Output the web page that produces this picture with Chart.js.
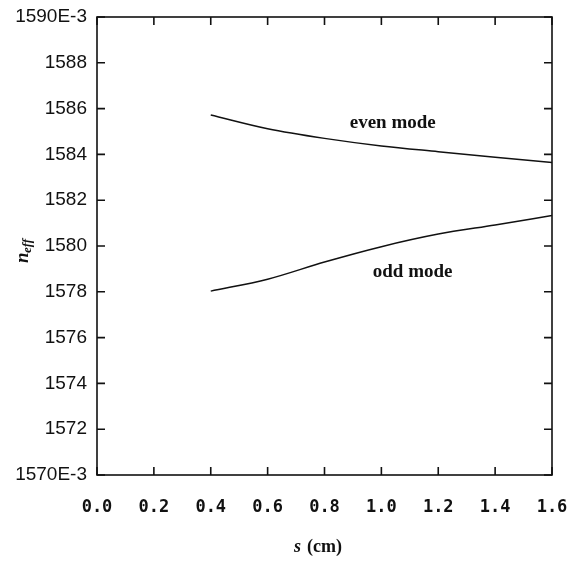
<!DOCTYPE html>
<html>
<head>
<meta charset="utf-8">
<script src="https://cdn.jsdelivr.net/npm/chart.js@4.4.1/dist/chart.umd.min.js"></script>
<style>
  html, body { margin: 0; padding: 0; background: #fff; }
  #wrap { width: 573px; height: 573px; }
</style>
</head>
<body>
<div id="wrap"><canvas id="chart"></canvas></div>
<script>
// s (cm)
const spacing = [0.4, 0.6, 0.8, 1.0, 1.2, 1.4, 1.6];
// n_eff in units of 1E-3
const evenMode = [1585.72, 1585.12, 1584.70, 1584.37, 1584.12, 1583.88, 1583.65];
const oddMode = [1578.03, 1578.55, 1579.30, 1579.97, 1580.52, 1580.92, 1581.33];
const yTickLabels = {1590: '1590E-3', 1570: '1570E-3'};

const ink = '#111';

// inner ticks on all four sides, plus frame and text labels
const framePlugin = {
  id: 'frame',
  afterDraw(chart) {
    const ctx = chart.ctx;
    const {left, right, top, bottom} = chart.chartArea;
    const xs = chart.scales.x;
    const ys = chart.scales.y;
    const len = 8;
    ctx.save();
    ctx.strokeStyle = ink;
    ctx.lineWidth = 1.6;
    ctx.strokeRect(left, top, right - left, bottom - top);
    ctx.beginPath();
    xs.ticks.forEach(t => {
      const px = xs.getPixelForValue(t.value);
      ctx.moveTo(px, bottom); ctx.lineTo(px, bottom - len);
      ctx.moveTo(px, top); ctx.lineTo(px, top + len);
    });
    ys.ticks.forEach(t => {
      const py = ys.getPixelForValue(t.value);
      ctx.moveTo(left, py); ctx.lineTo(left + len, py);
      ctx.moveTo(right, py); ctx.lineTo(right - len, py);
    });
    ctx.stroke();

    // curve labels
    ctx.fillStyle = ink;
    ctx.font = 'bold 19px "Liberation Serif", serif';
    ctx.textAlign = 'center';
    ctx.textBaseline = 'middle';
    ctx.fillText('even mode', xs.getPixelForValue(1.04), ys.getPixelForValue(1585.37));
    ctx.fillText('odd mode', xs.getPixelForValue(1.11), ys.getPixelForValue(1578.86));

    // x axis title
    ctx.textAlign = 'left';
    ctx.font = 'italic bold 18px "Liberation Serif", serif';
    ctx.fillText('s', 294, 547);
    ctx.font = 'bold 18px "Liberation Serif", serif';
    ctx.fillText('(cm)', 307, 547);

    // y axis title, rotated
    ctx.translate(23, 250);
    ctx.rotate(-Math.PI / 2);
    ctx.textAlign = 'left';
    ctx.font = 'italic bold 19px "Liberation Serif", serif';
    ctx.fillText('n', -13, 0);
    ctx.font = 'italic bold 13px "Liberation Serif", serif';
    ctx.fillText('eff', -3, 5);
    ctx.restore();
  }
};

const config = {
  type: 'line',
  data: {
    datasets: [
      {
        label: 'even mode',
        data: spacing.map((s, i) => ({x: s, y: evenMode[i]})),
      },
      {
        label: 'odd mode',
        data: spacing.map((s, i) => ({x: s, y: oddMode[i]})),
      }
    ]
  },
  options: {
    responsive: false,
    animation: false,
    layout: {padding: {top: 17, right: 21, left: 0, bottom: 0}},
    elements: {
      line: {borderColor: ink, borderWidth: 1.5, tension: 0.3, cubicInterpolationMode: 'monotone'},
      point: {radius: 0}
    },
    plugins: {legend: {display: false}, tooltip: {enabled: false}},
    scales: {
      x: {
        type: 'linear',
        min: 0,
        max: 1.6,
        afterFit: s => { s.height = 98; s.paddingLeft = 0; s.paddingRight = 0; },
        grid: {display: false, drawTicks: false},
        border: {display: false},
        ticks: {
          stepSize: 0.2,
          padding: 22,
          color: ink,
          maxRotation: 0,
          font: {family: '"DejaVu Sans Mono", monospace', size: 17, weight: 'bold'},
          callback: v => v.toFixed(1)
        }
      },
      y: {
        min: 1570,
        max: 1590,
        afterFit: s => { s.width = 97; s.paddingTop = 0; s.paddingBottom = 0; },
        grid: {display: false, drawTicks: false},
        border: {display: false},
        ticks: {
          stepSize: 2,
          padding: 10,
          color: ink,
          font: {family: '"Liberation Sans", sans-serif', size: 19},
          callback: v => yTickLabels[v] || String(v)
        }
      }
    }
  },
  plugins: [framePlugin]
};

const canvas = document.getElementById('chart');
canvas.width = 573;
canvas.height = 573;
new Chart(canvas, config);
</script>
</body>
</html>
